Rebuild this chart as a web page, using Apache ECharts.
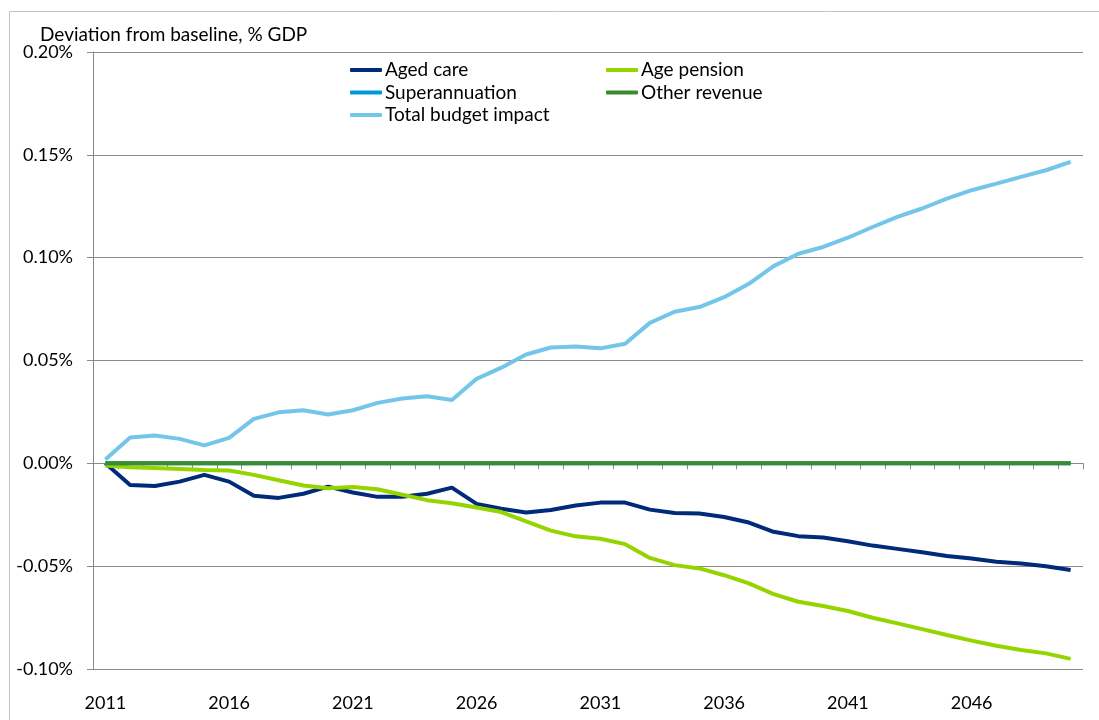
<!DOCTYPE html>
<html lang="en" style="height: 100%">
<head>
  <meta charset="utf-8">
  <title>Deviation from baseline</title>
  <style>
    html, body { height: 100%; margin: 0; background: #fff; }
  </style>
</head>
<body>
  <div id="container" style="width: 1099px; height: 720px"></div>

  <script type="text/javascript" src="https://cdn.jsdelivr.net/npm/echarts@6/dist/echarts.min.js"></script>
  <script type="text/javascript">
    // years 2011..2050
    var years = [];
    for (var y = 2011; y <= 2050; y++) years.push(String(y));

    // % of GDP
    var agedCare = [
      0.0000, -0.0105, -0.0110, -0.0089, -0.0056, -0.0089, -0.0158, -0.0168, -0.0148, -0.0113,
      -0.0142, -0.0163, -0.0163, -0.0148, -0.0118, -0.0197, -0.0221, -0.0239, -0.0227, -0.0205,
      -0.0191, -0.0191, -0.0225, -0.0241, -0.0244, -0.0261, -0.0288, -0.0333, -0.0354, -0.0361,
      -0.0379, -0.0400, -0.0416, -0.0432, -0.0451, -0.0463, -0.0479, -0.0487, -0.0500, -0.0519
    ];
    var agePension = [
      -0.0010, -0.0019, -0.0023, -0.0027, -0.0032, -0.0035, -0.0056, -0.0082, -0.0108, -0.0121,
      -0.0115, -0.0126, -0.0153, -0.0179, -0.0194, -0.0215, -0.0237, -0.0282, -0.0327, -0.0355,
      -0.0367, -0.0393, -0.0460, -0.0495, -0.0511, -0.0544, -0.0584, -0.0636, -0.0673, -0.0694,
      -0.0718, -0.0751, -0.0778, -0.0806, -0.0835, -0.0862, -0.0887, -0.0908, -0.0924, -0.0951
    ];
    var superannuation = [
      0, 0, 0, 0, 0, 0, 0, 0, 0, 0, 0, 0, 0, 0, 0, 0, 0, 0, 0, 0,
      0, 0, 0, 0, 0, 0, 0, 0, 0, 0, 0, 0, 0, 0, 0, 0, 0, 0, 0, 0
    ];
    var otherRevenue = [
      0, 0, 0, 0, 0, 0, 0, 0, 0, 0, 0, 0, 0, 0, 0, 0, 0, 0, 0, 0,
      0, 0, 0, 0, 0, 0, 0, 0, 0, 0, 0, 0, 0, 0, 0, 0, 0, 0, 0, 0
    ];
    var totalImpact = [
      0.0019, 0.0126, 0.0135, 0.0119, 0.0087, 0.0124, 0.0216, 0.0248, 0.0258, 0.0237,
      0.0258, 0.0294, 0.0315, 0.0326, 0.0308, 0.0411, 0.0465, 0.0529, 0.0563, 0.0568,
      0.0559, 0.0581, 0.0683, 0.0737, 0.0760, 0.0808, 0.0873, 0.0959, 0.1019, 0.1052,
      0.1097, 0.1149, 0.1198, 0.1239, 0.1287, 0.1328, 0.1360, 0.1393, 0.1425, 0.1466
    ];

    var FONT = 'Lato, "Open Sans", sans-serif';
    var GRID_LINE = '#8a8a8a';

    var seriesDefs = [
      { name: 'Aged care', data: agedCare, color: '#002a7a' },
      { name: 'Age pension', data: agePension, color: '#94d500' },
      { name: 'Superannuation', data: superannuation, color: '#0099d8' },
      { name: 'Other revenue', data: otherRevenue, color: '#3b8b2e' },
      { name: 'Total budget impact', data: totalImpact, color: '#74c6e8' }
    ];

    // legend slots: two columns like the original
    var legendPos = [
      { left: 350, top: 59 },
      { left: 606, top: 59 },
      { left: 350, top: 81.5 },
      { left: 606, top: 81.5 },
      { left: 350, top: 104 }
    ];

    var dom = document.getElementById('container');
    var myChart = echarts.init(dom, null, { renderer: 'canvas' });

    var option = {
      animation: false,
      backgroundColor: '#fff',
      textStyle: { fontFamily: FONT },
      title: {
        text: 'Deviation from baseline, % GDP',
        left: 35,
        top: 20,
        textStyle: { fontFamily: FONT, fontSize: 19, fontWeight: 'normal', color: '#000' }
      },
      graphic: [{
        type: 'rect',
        left: 7,
        top: 9,
        shape: { width: 1200, height: 800 },
        style: { fill: 'none', stroke: '#c4c4c4', lineWidth: 1 },
        silent: true,
        z: -10
      }],
      legend: seriesDefs.map(function (s, i) {
        return {
          data: [s.name],
          left: legendPos[i].left,
          top: legendPos[i].top,
          icon: 'roundRect',
          itemWidth: 32,
          itemHeight: 4,
          itemGap: 0,
          padding: 0,
          selectedMode: false,
          textStyle: { fontFamily: FONT, fontSize: 19, color: '#000', lineHeight: 22, padding: [0, 0, 0, -2] }
        };
      }),
      grid: { left: 93, right: 16, top: 52, bottom: 51 },
      xAxis: [
        {
          type: 'category',
          data: years,
          position: 'bottom',
          boundaryGap: true,
          axisLine: { show: false, onZero: false },
          axisTick: { show: false },
          axisLabel: {
            interval: 4,
            margin: 25,
            fontFamily: FONT,
            fontSize: 18,
            color: '#000'
          },
          splitLine: { show: false }
        },
        {
          // axis line + ticks sitting on zero
          type: 'category',
          data: years,
          position: 'top',
          boundaryGap: true,
          axisLine: { show: true, onZero: true, lineStyle: { color: GRID_LINE, width: 1 } },
          axisTick: { show: true, inside: true, length: 6, interval: 0, lineStyle: { color: GRID_LINE } },
          axisLabel: { show: false },
          splitLine: { show: false }
        }
      ],
      yAxis: {
        type: 'value',
        min: -0.1,
        max: 0.2,
        interval: 0.05,
        axisLine: { show: true, lineStyle: { color: GRID_LINE, width: 1 } },
        axisTick: { show: true, length: 6, lineStyle: { color: GRID_LINE } },
        axisLabel: {
          margin: 20,
          fontFamily: FONT,
          fontSize: 18,
          color: '#000',
          formatter: function (v) {
            if (Math.abs(v) < 1e-9) v = 0;
            return v.toFixed(2) + '%';
          }
        },
        splitLine: { show: true, lineStyle: { color: GRID_LINE, width: 1 } }
      },
      series: seriesDefs.map(function (s) {
        return {
          name: s.name,
          type: 'line',
          data: s.data,
          symbol: 'none',
          color: s.color,
          lineStyle: { color: s.color, width: 4 },
          itemStyle: { color: s.color },
          z: 3
        };
      })
    };

    myChart.setOption(option);
    window.addEventListener('resize', myChart.resize);
  </script>
</body>
</html>
